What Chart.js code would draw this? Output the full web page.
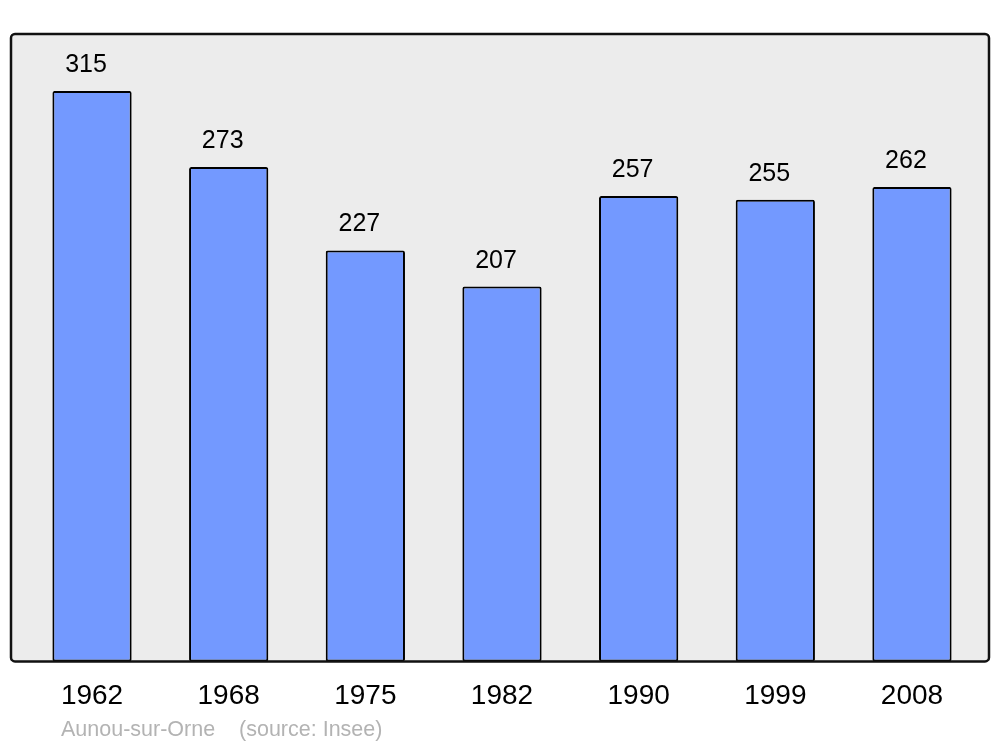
<!DOCTYPE html>
<html>
<head>
<meta charset="utf-8">
<script src="https://cdn.jsdelivr.net/npm/chart.js@4/dist/chart.umd.min.js"></script>
<style>
  body { margin: 0; background: #fff; }
  #wrap { width: 1000px; height: 747px; position: relative; }
</style>
</head>
<body>
<div id="wrap"><canvas id="grafico"></canvas></div>
<script>
const annees = ["1962", "1968", "1975", "1982", "1990", "1999", "2008"];
const population = [315, 273, 227, 207, 257, 255, 262];
const legende = "Aunou-sur-Orne    (source: Insee)";

// cadre gris arrondi derriere les barres
const cadre = {
  id: "cadre",
  beforeDatasetsDraw(chart) {
    const a = chart.chartArea;
    const ctx = chart.ctx;
    ctx.save();
    ctx.beginPath();
    ctx.roundRect(a.left - 12.7, a.top, a.right - a.left + 21.4, a.bottom - a.top, 4);
    ctx.fillStyle = "#ececec";
    ctx.fill();
    ctx.restore();
  },
  afterDatasetsDraw(chart) {
    const a = chart.chartArea;
    const ctx = chart.ctx;
    ctx.save();
    ctx.beginPath();
    ctx.roundRect(a.left - 12.7, a.top, a.right - a.left + 21.4, a.bottom - a.top, 4);
    ctx.lineWidth = 2.5;
    ctx.strokeStyle = "#111";
    ctx.stroke();

    // valeurs au-dessus des barres
    ctx.font = "25px 'Liberation Sans', Arial, sans-serif";
    ctx.fillStyle = "#000";
    ctx.textAlign = "center";
    ctx.textBaseline = "alphabetic";
    chart.getDatasetMeta(0).data.forEach((bar, i) => {
      ctx.fillText(population[i], bar.x - 6, bar.y - 19);
    });

    // source
    ctx.font = "21.5px 'Liberation Sans', Arial, sans-serif";
    ctx.fillStyle = "#b3b3b3";
    ctx.textAlign = "left";
    ctx.textBaseline = "middle";
    ctx.fillText(legende, 61, 730);
    ctx.restore();
  }
};

new Chart(document.getElementById("grafico"), {
  type: "bar",
  data: {
    labels: annees,
    datasets: [
      {
        label: "Population",
        data: population,
        backgroundColor: "#7399ff",
        borderColor: "#000",
        borderWidth: 2,
        borderRadius: 2,
        borderSkipped: false,
        categoryPercentage: 1,
        barPercentage: 0.58
      }
    ]
  },
  options: {
    responsive: true,
    maintainAspectRatio: false,
    animation: false,
    layout: {
      padding: { left: 23.7, right: 19.7, top: 34, bottom: 15 }
    },
    plugins: {
      legend: { display: false },
      tooltip: { enabled: false }
    },
    scales: {
      x: {
        grid: { display: false, drawTicks: false },
        border: { display: false },
        ticks: {
          color: "#000",
          padding: 18.5,
          font: { size: 28, family: "'Liberation Sans', Arial, sans-serif" }
        }
      },
      y: {
        display: false,
        min: 0,
        max: 346.5
      }
    }
  },
  plugins: [cadre]
});
</script>
</body>
</html>
